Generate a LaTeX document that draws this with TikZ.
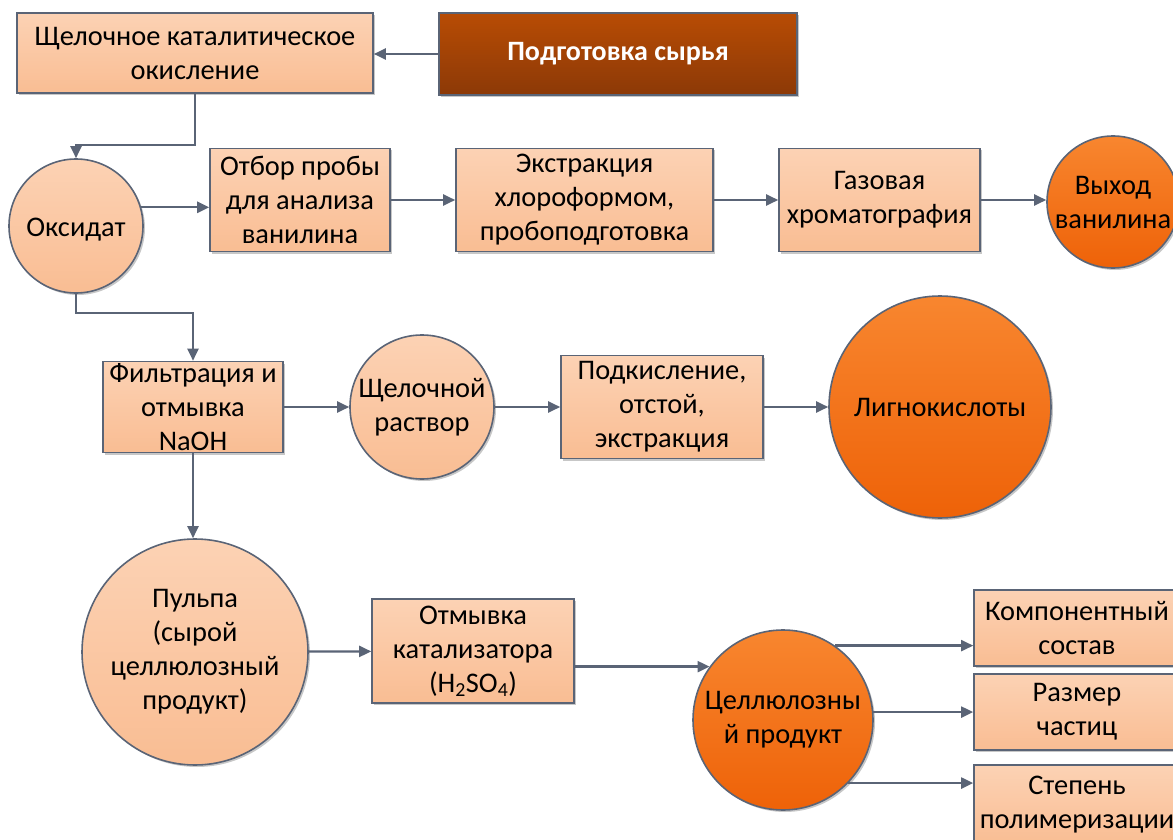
\documentclass[tikz,border=0pt]{standalone}
\usepackage{fontspec}
\setmainfont{Carlito}
\usetikzlibrary{arrows.meta,positioning,shadows}
\definecolor{peachtop}{HTML}{FCD2B4}
\definecolor{peachbot}{HTML}{F9BD93}
\definecolor{rusttop}{HTML}{B84C05}
\definecolor{rustbot}{HTML}{8C3906}
\definecolor{hottop}{HTML}{F8862F}
\definecolor{hotbot}{HTML}{EE6208}
\definecolor{edge}{HTML}{5A6476}

\begin{document}
\begin{tikzpicture}[x=1pt, y=1pt,
      shad/.style={drop shadow={shadow xshift=2pt, shadow yshift=-2pt, fill=black, opacity=0.22}},
      box/.style={draw=edge, line width=1.6pt, top color=peachtop, bottom color=peachbot, shad,
                  align=center, inner sep=0pt, font=\fontsize{28.4}{34}\selectfont},
      dark/.style={box, top color=rusttop, bottom color=rustbot, text=white, font=\fontsize{28}{34}\selectfont\bfseries},
      blob/.style={box, circle, inner sep=-20pt},
      hot/.style={blob, top color=hottop, bottom color=hotbot},
      lift/.style={execute at begin node={\rule{0pt}{26pt}}},
      arr/.style={-{Triangle[length=12pt,width=11pt]}, line width=2.3pt, edge}]
    \useasboundingbox (0,0) rectangle (1173,-840);
    \clip (0,0) rectangle (1173,-840);
    % top: raw material and oxidation
    \node[box, minimum width=356, minimum height=80] (okis) at (195,-53) {Щелочное каталитическое\\окисление};
    \node[dark, minimum width=358, minimum height=82] (podg) at (618,-54) {Подготовка сырья};
    \node[blob, lift, minimum size=134] (oks) at (76,-226) {Оксидат};
    % vanillin analysis row
    \node[box, minimum width=180, minimum height=103] (otbor) at (300,-200) {Отбор пробы\\для анализа\\ванилина};
    \node[box, minimum width=257, minimum height=103] (ekstr) at (584.5,-200) {Экстракция\\хлороформом,\\пробоподготовка};
    \node[box, minimum width=201, minimum height=103] (gaz) at (879.5,-200) {Газовая\\хроматография};
    \node[hot, minimum size=132] (vyh) at (1113,-202) {Выход\\ванилина};
    % lignin row
    \node[box, minimum width=180, minimum height=91] (filtr) at (193,-407) {Фильтрация и\\отмывка\\NaOH};
    \node[blob, minimum size=144] (shch) at (422,-407) {Щелочной\\раствор};
    \node[box, minimum width=202, minimum height=103] (podk) at (662,-407) {Подкисление,\\отстой,\\экстракция};
    \node[hot, minimum size=222] (lign) at (940,-407) {Лигнокислоты};
    % cellulose row
    \node[blob, minimum size=226] (pulp) at (195,-652) {Пульпа\\(сырой\\целлюлозный\\продукт)};
    \node[box, minimum width=202, minimum height=104] (otm) at (473,-651) {Отмывка\\катализатора\\(H\textsubscript{2}SO\textsubscript{4})};
    \node[hot, minimum size=180] (cell) at (783,-720) {Целлюлозны\\й продукт};
    \node[box, minimum width=206, minimum height=76] (komp) at (1077,-628) {Компонентный\\состав};
    \node[box, minimum width=206, minimum height=76] (razm) at (1077,-712) {Размер\\частиц};
    \node[box, minimum width=206, minimum height=80] (stepen) at (1077,-805) {Степень\\полимеризации};
    \draw[arr] (podg.west) -- (podg.west -| okis.east);
    \draw[arr] (okis.south) -- ++(0,-51) -| (oks.north);
    \draw[arr] (oks.16) -- (oks.16 -| otbor.west);
    \draw[arr] (otbor) -- (ekstr); \draw[arr] (ekstr) -- (gaz);
    \draw[arr] (gaz.east) -- (gaz.east -| vyh.west);
    \draw[arr] (oks.south) -- ++(0,-19) -| (filtr.north);
    \draw[arr] (filtr) -- (shch); \draw[arr] (shch) -- (podk); \draw[arr] (podk) -- (lign);
    \draw[arr] (filtr.south) -- (filtr.south |- pulp.north);
    \draw[arr] (pulp) -- (otm);
    \draw[arr] (otm.east |- cell.144) -- (cell.144);
    \draw[arr] (cell.55) -- (cell.55 -| komp.west);
    \draw[arr] (cell.5) -- (cell.5 -| razm.west);
    \draw[arr] (cell.-44) -- (cell.-44 -| stepen.west);
  \end{tikzpicture}
\end{document}
